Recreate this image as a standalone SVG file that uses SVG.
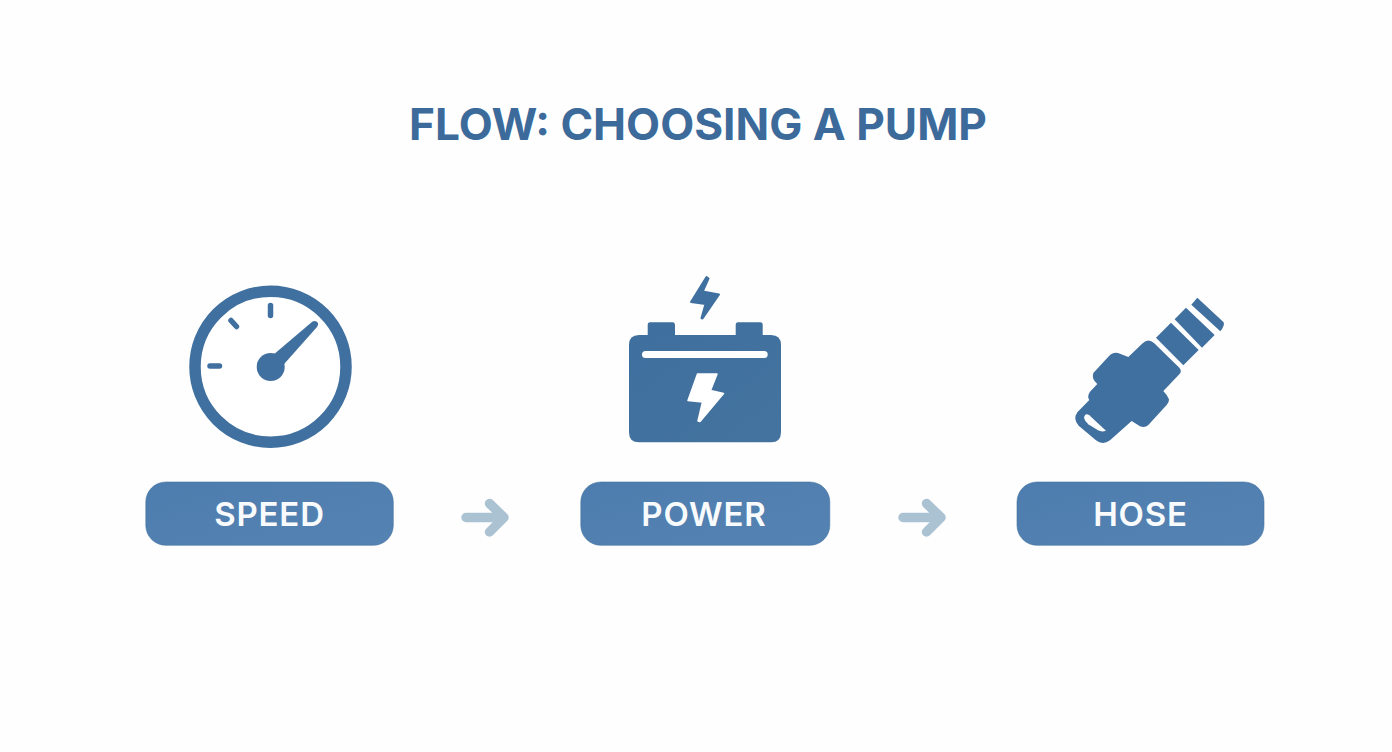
<svg xmlns="http://www.w3.org/2000/svg" width="1392" height="752" viewBox="0 0 1392 752">
<defs>
<linearGradient id="pill" x1="0" y1="0" x2="1" y2="1"><stop offset="0" stop-color="#4d7dae"/><stop offset="1" stop-color="#5482b3"/></linearGradient>
<linearGradient id="bat" x1="0" y1="0" x2="1" y2="1"><stop offset="0" stop-color="#3f6f9e"/><stop offset="1" stop-color="#44739f"/></linearGradient>
<path id="arrow" d="M466 517.500H503M489.500 503.500L504 517.500L489.500 532" fill="none" stroke="#abc2d3" stroke-width="9.500" stroke-linecap="round" stroke-linejoin="round"/>
</defs>
<style>
.ic{fill:#40709f}
.tick{stroke:#40709f;stroke-width:5.500;stroke-linecap:round;fill:none}
.pill{fill:url(#pill);stroke:#44739f;stroke-width:.6}
.lab{font-family:"Inter","Liberation Sans",sans-serif;font-weight:600;font-size:33px;letter-spacing:.8px;fill:#f8fafc;text-anchor:middle}
.hole{fill:#fefefe}
</style>
<rect width="1392" height="752" fill="#fefefe"/>
<text id="title" x="698" y="140" font-family="Inter, Liberation Sans, Arial, sans-serif" font-weight="700" font-size="44" fill="#3c6b9b" text-anchor="middle" textLength="578" lengthAdjust="spacingAndGlyphs">FLOW: CHOOSING A PUMP</text>
<g id="connectors">
<use href="#arrow"/>
<use href="#arrow" x="437"/>
</g>
<g id="speed">
<circle cx="270.500" cy="366.700" r="75.500" fill="#fff" stroke="#40709f" stroke-width="11.500"/>
<path class="tick" d="M270.500 305.500V315.500M231 320.500L236.500 326.500M210 366H219.500"/>
<circle class="ic" cx="270.700" cy="367" r="14"/>
<path class="ic" d="M266 361L312.500 321.500Q316 320 318 323Q318.500 325 317 327L277 372Z"/>
<rect class="pill" x="145.800" y="482" width="247.500" height="63.300" rx="20"/>
<text class="lab" x="269.500" y="526">SPEED</text>
</g>
<g id="power">
<path class="ic" stroke="#40709f" stroke-width="2" stroke-linejoin="round" d="M706.500 277L708.500 278.500L702.700 291.500L719 294.500L702.500 318.500L701.500 318L705.500 304L691 302Z"/>
<path fill="url(#bat)" d="M650 322.300H673Q675 322.300 675 325V335H735.700V325Q735.700 322.300 738 322.300H760.500Q762.700 322.300 762.700 325V335H771Q781 335 781 345V432.300Q781 442.300 771 442.300H639Q629 442.300 629 432.300V345Q629 335 639 335H647.700V325Q647.700 322.300 650 322.300Z"/>
<rect x="642" y="351" width="125.700" height="7" rx="3.500" fill="#fff"/>
<path d="M697.500 374H717L710.500 390.500L723.500 393.500L700 421.500L698 421L702.500 402L688 400.500Z" fill="#fff" stroke="#fff" stroke-width="1.500" stroke-linejoin="round"/>
<rect class="pill" x="580.800" y="482" width="249" height="63.300" rx="20"/>
<text class="lab" x="704" y="526">POWER</text>
</g>
<g id="hose">
<g transform="translate(1060 285) scale(.3333)">
<path class="ic" d="M248 175Q265 158 282 174L358 248Q367 258 358 268L310 318Q322 330 327 343Q328 352 320 360L265 420Q255 430 240 424L215 408L150 466Q128 482 108 466L56 422Q38 402 52 382L88 345Q80 335 90 320L112 297Q94 282 100 264L145 215Q160 198 180 206L205 216Z"/>
<path class="hole" d="M72 398Q76 382 88 391L138 437Q125 442 114 436L85 418Q74 408 72 398Z"/>
<path class="ic" d="M333 113L416 195L370 241L288 158ZM378 68L464 150L426 188L344 103ZM412 38L491 112Q495 122 481 139L394 59Z"/>
</g>
<rect class="pill" x="1017" y="482" width="247" height="63.300" rx="20"/>
<text class="lab" x="1140.500" y="526">HOSE</text>
</g>
</svg>
